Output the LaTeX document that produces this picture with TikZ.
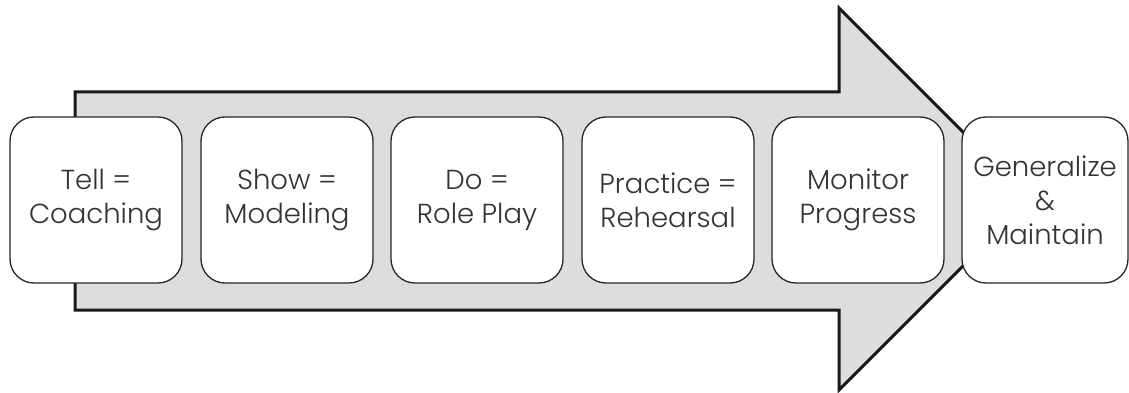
\documentclass[tikz,border=0pt]{standalone}
\usepackage{fontspec}
\setmainfont{Poppins}[UprightFont=* Light, Ligatures=NoCommon]
\definecolor{arrowfill}{HTML}{DCDDDE}
\definecolor{txt}{HTML}{333333}
\begin{document}
\begin{tikzpicture}[x=1pt,y=-1pt,
  stepbox/.style={draw=black!85, line width=1.3pt, fill=white, rounded corners=24pt,
    minimum width=172pt, minimum height=166pt, inner sep=0pt, align=center,
    text=txt, font=\fontsize{27.5}{34}\selectfont}]
\useasboundingbox (0,0) rectangle (1129,393);
\draw[line width=3pt, fill=arrowfill, draw=black!90, line join=miter]
  (75,92) -- (839,92) -- (839,8) -- (1030,199) -- (839,390) -- (839,310) -- (75,310) -- cycle;
\node[stepbox] (b1) at (96,200) {Tell =\\Coaching};
\node[stepbox] (b2) at (287,200) {Show =\\Modeling};
\node[stepbox] (b3) at (477,200) {Do =\\Role Play};
\node[stepbox] (b4) at (668,200) {Practice =\\Rehearsal};
\node[stepbox] (b5) at (858,200) {Monitor\\Progress};
\node[stepbox, minimum width=166pt] (b6) at (1045,200) {Generalize\\\&\\Maintain};
\end{tikzpicture}
\end{document}
